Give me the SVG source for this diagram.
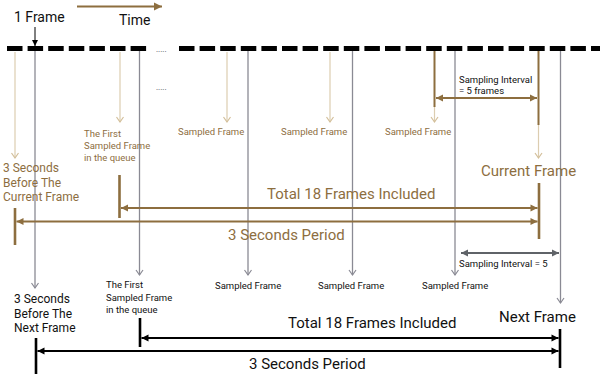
<svg xmlns="http://www.w3.org/2000/svg" width="600" height="377" viewBox="0 0 600 377">
<style>
text{font-family:Roboto,"Liberation Sans",sans-serif}
.tan{fill:#8d6e3f}
.blk{fill:#111}
.s{font-size:9.5px}
.m{font-size:12px}
.l{font-size:15px}
.t{font-size:14px}
.dash{stroke:#000;stroke-width:5;stroke-dasharray:15.5 5.1;fill:none}
.gl{stroke:#8a8a94;stroke-width:1.3;fill:none;marker-end:url(#og)}
.tla{stroke:#dccdb0;stroke-width:1.2;fill:none;marker-end:url(#ot)}
.td{stroke:#8d6e3f;stroke-width:2;fill:none}
.bar-t{stroke:#8d6e3f;stroke-width:2.6}
.bar-b{stroke:#000;stroke-width:2.6}
.ta{stroke:#8d6e3f;stroke-width:2.2;fill:none;marker-start:url(#ft);marker-end:url(#ft)}
.ba{stroke:#000;stroke-width:2.2;fill:none;marker-start:url(#fb);marker-end:url(#fb)}
.ga{stroke:#5f6368;stroke-width:2.2;fill:none;marker-start:url(#fg);marker-end:url(#fg)}
</style>
<defs>
<marker id="og" markerUnits="userSpaceOnUse" markerWidth="12" markerHeight="12" viewBox="-6 -6 12 12" refX="0" refY="0" orient="auto"><path d="M-5,-3.5 L0,0 L-5,3.5" stroke="#8a8a94" stroke-width="1.2" fill="none"/></marker>
<marker id="ot" markerUnits="userSpaceOnUse" markerWidth="12" markerHeight="12" viewBox="-6 -6 12 12" refX="0" refY="0" orient="auto"><path d="M-5,-3.5 L0,0 L-5,3.5" stroke="#d3bf9a" stroke-width="1.2" fill="none"/></marker>
<marker id="ft" markerUnits="userSpaceOnUse" markerWidth="10" markerHeight="10" viewBox="-8 -5 10 10" refX="0" refY="0" orient="auto-start-reverse"><path d="M-7,-3.5 L0,0 L-7,3.5 Z" fill="#8d6e3f"/></marker>
<marker id="fb" markerUnits="userSpaceOnUse" markerWidth="10" markerHeight="10" viewBox="-8 -5 10 10" refX="0" refY="0" orient="auto-start-reverse"><path d="M-7,-3.5 L0,0 L-7,3.5 Z" fill="#000"/></marker>
<marker id="fg" markerUnits="userSpaceOnUse" markerWidth="10" markerHeight="10" viewBox="-8 -5 10 10" refX="0" refY="0" orient="auto-start-reverse"><path d="M-7,-3.5 L0,0 L-7,3.5 Z" fill="#5f6368"/></marker>
<marker id="fe" markerUnits="userSpaceOnUse" markerWidth="10" markerHeight="10" viewBox="-8 -5 10 10" refX="0" refY="0" orient="auto"><path d="M-6,-3 L0,0 L-6,3 Z" fill="#000"/></marker>
<marker id="fte" markerUnits="userSpaceOnUse" markerWidth="12" markerHeight="12" viewBox="-9 -6 12 12" refX="0" refY="0" orient="auto"><path d="M-8,-4 L0,0 L-8,4 Z" fill="#8d6e3f"/></marker>
</defs>

<g id="timeline">
<line class="dash" x1="7" y1="48.5" x2="147" y2="48.5"/>
<line class="dash" x1="179" y1="48.5" x2="606" y2="48.5"/>
<text x="156" y="52" style="font-size:8px;fill:#444">.....</text>
<text x="156" y="90" style="font-size:8px;fill:#444">.....</text>
</g>

<g id="connectors">
<line x1="77" y1="6.5" x2="162" y2="6.5" stroke="#8d6e3f" stroke-width="2.2" marker-end="url(#fte)"/>
<line x1="35" y1="27" x2="35" y2="46" stroke="#000" stroke-width="1" marker-end="url(#fe)"/>
<line class="tla" x1="15" y1="52" x2="15" y2="158"/>
<line class="tla" x1="120" y1="52" x2="120" y2="122"/>
<line class="tla" x1="227" y1="52" x2="227" y2="122"/>
<line class="tla" x1="330" y1="52" x2="330" y2="122"/>
<line class="tla" x1="434.5" y1="106" x2="434.5" y2="122"/>
<line class="td" x1="434.5" y1="51" x2="434.5" y2="107"/>
<line class="tla" x1="538.5" y1="124" x2="538.5" y2="158"/>
<line class="td" x1="538.5" y1="51" x2="538.5" y2="125"/>
<line class="gl" x1="35" y1="51" x2="35" y2="288"/>
<line class="gl" x1="139.5" y1="51" x2="139.5" y2="275"/>
<line class="gl" x1="248" y1="51" x2="248" y2="275"/>
<line class="gl" x1="352.5" y1="51" x2="352.5" y2="275"/>
<line class="gl" x1="455" y1="51" x2="455" y2="275"/>
<line class="gl" x1="560.5" y1="51" x2="560.5" y2="303"/>
<line class="ta" x1="436" y1="98" x2="537" y2="98"/>
<line class="ga" x1="461" y1="253" x2="559" y2="253"/>
<line class="bar-t" x1="15" y1="208" x2="15" y2="245"/>
<line class="bar-t" x1="119.5" y1="175" x2="119.5" y2="218"/>
<line class="bar-t" x1="539" y1="183" x2="539" y2="239"/>
<line class="ta" x1="121" y1="208" x2="537.5" y2="208"/>
<line class="ta" x1="16.5" y1="221.5" x2="537.5" y2="221.5"/>
<line class="bar-b" x1="36" y1="338" x2="36" y2="374"/>
<line class="bar-b" x1="140" y1="318" x2="140" y2="347"/>
<line class="bar-b" x1="560" y1="329" x2="560" y2="368"/>
<line class="ba" x1="141.5" y1="338" x2="558.5" y2="338"/>
<line class="ba" x1="37.5" y1="351" x2="558.5" y2="351"/>
</g>

<g id="label-1frame"><text class="blk t" x="14" y="22">1 Frame</text></g>
<g id="label-time"><text class="blk t" x="119" y="25">Time</text></g>

<g id="tan-first"><text class="tan s" x="84" y="137">The First</text><text class="tan s" x="84" y="149">Sampled Frame</text><text class="tan s" x="84" y="160.5">in the queue</text></g>
<g id="tan-sampled-1"><text class="tan s" x="178" y="135">Sampled Frame</text></g>
<g id="tan-sampled-2"><text class="tan s" x="281" y="135">Sampled Frame</text></g>
<g id="tan-sampled-3"><text class="tan s" x="385" y="135">Sampled Frame</text></g>
<g id="tan-3sec"><text class="tan m" x="3" y="172">3 Seconds</text><text class="tan m" x="3" y="186.5">Before The</text><text class="tan m" x="3" y="201">Current Frame</text></g>
<g id="tan-current"><text class="tan l" x="481" y="176">Current Frame</text></g>
<g id="tan-total"><text class="tan l" x="267" y="199">Total 18 Frames Included</text></g>
<g id="tan-period"><text class="tan l" x="228" y="240">3 Seconds Period</text></g>
<g id="tan-interval"><text class="blk s" x="459" y="83">Sampling Interval</text><text class="blk s" x="459" y="94">= 5 frames</text></g>

<g id="blk-interval"><text class="blk s" x="459" y="267">Sampling Interval = 5</text></g>
<g id="blk-3sec"><text class="blk m" x="14" y="303">3 Seconds</text><text class="blk m" x="14" y="317.5">Before The</text><text class="blk m" x="14" y="332">Next Frame</text></g>
<g id="blk-first"><text class="blk s" x="106" y="288">The First</text><text class="blk s" x="106" y="300.5">Sampled Frame</text><text class="blk s" x="106" y="313">in the queue</text></g>
<g id="blk-sampled-1"><text class="blk s" x="215" y="289">Sampled Frame</text></g>
<g id="blk-sampled-2"><text class="blk s" x="318" y="289">Sampled Frame</text></g>
<g id="blk-sampled-3"><text class="blk s" x="422" y="289">Sampled Frame</text></g>
<g id="blk-next"><text class="blk l" x="499" y="322">Next Frame</text></g>
<g id="blk-total"><text class="blk l" x="288" y="328">Total 18 Frames Included</text></g>
<g id="blk-period"><text class="blk l" x="249" y="369">3 Seconds Period</text></g>
</svg>
